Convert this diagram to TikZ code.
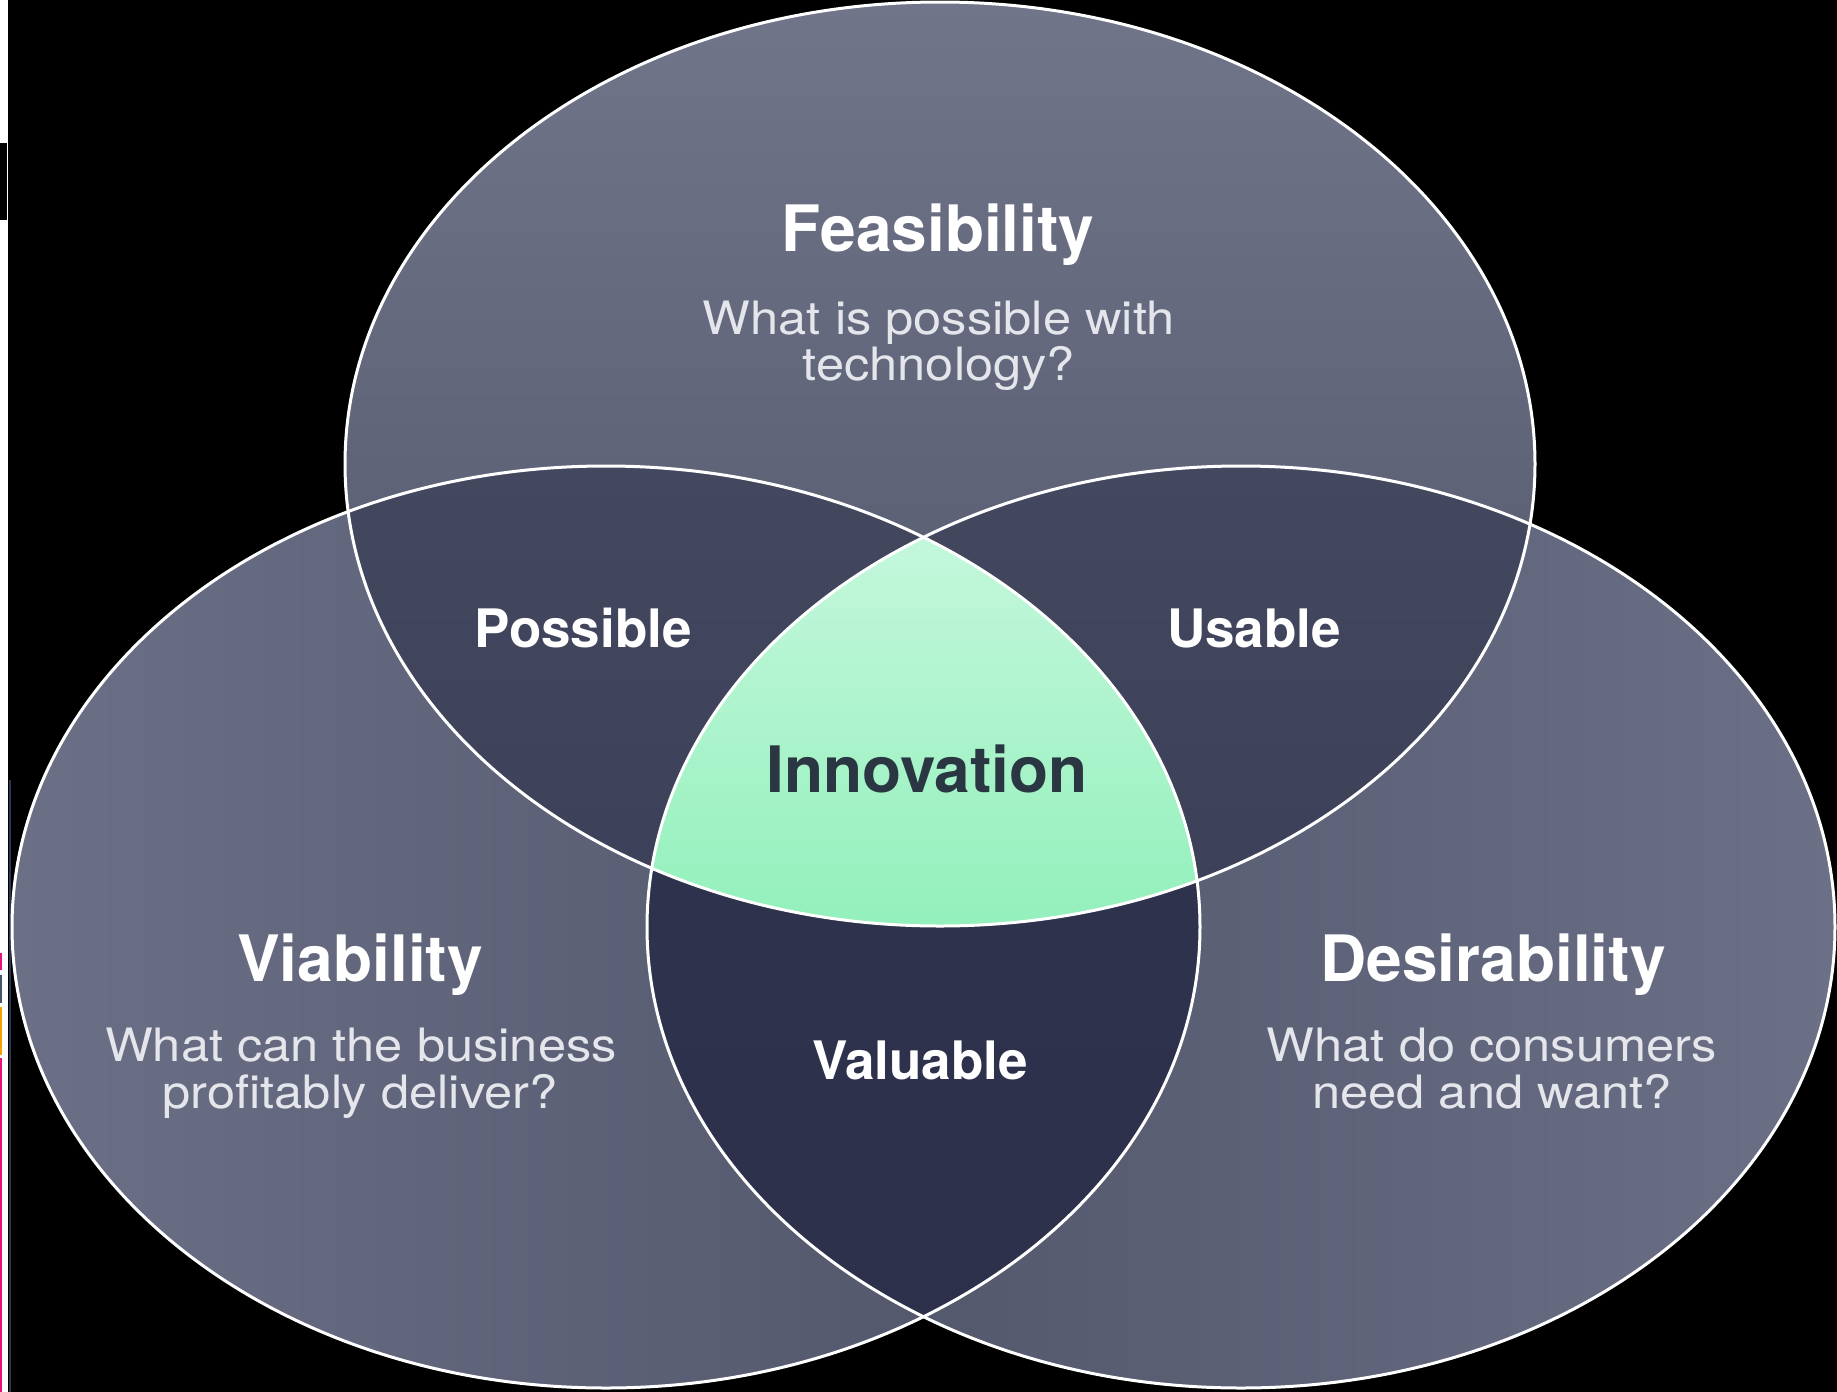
\documentclass[tikz,border=0pt]{standalone}
\usepackage{fontspec}
\setmainfont{TeX Gyre Heros}
\newfontfamily\descfont{TeX Gyre Heros}[FakeStretch=1.1]
\definecolor{topA}{HTML}{71758A}
\definecolor{topB}{HTML}{4F5367}
\definecolor{sideA}{HTML}{6C7087}
\definecolor{sideB}{HTML}{4D5165}
\definecolor{pairA}{HTML}{43485F}
\definecolor{pairB}{HTML}{343952}
\definecolor{valA}{HTML}{30344F}
\definecolor{valB}{HTML}{2C304A}
\definecolor{greenA}{HTML}{C4F7DC}
\definecolor{greenB}{HTML}{92F0BB}
\definecolor{innotext}{HTML}{2A3742}
\definecolor{desctext}{HTML}{E4E6EC}
\definecolor{markpink}{HTML}{E8117F}
\definecolor{markgrey}{HTML}{4A5568}
\definecolor{markorange}{HTML}{F5A300}
\definecolor{markblue}{HTML}{2A3550}
\begin{document}
\begin{tikzpicture}[x=0.5pt,y=-0.5pt,
  outline/.style={draw=white,line width=1.5pt},
  head/.style={text=white,font=\fontsize{32}{34}\selectfont\bfseries,inner sep=0pt,anchor=base},
  desc/.style={text=desctext,font=\descfont\fontsize{23}{24}\selectfont,inner sep=0pt,anchor=base},
  lab/.style={text=white,font=\fontsize{26.5}{28}\selectfont\bfseries,inner sep=0pt,anchor=base}]
\useasboundingbox (0,0) rectangle (1837,1392);
\fill[black] (0,0) rectangle (1837,1392);
% left-edge artefacts
\fill[white] (0,0) rectangle (8,1392);
\fill[black] (0,143) rectangle (7,220);
\fill[markpink] (0,953) rectangle (2,970);
\fill[markgrey] (0,975) rectangle (2,1003);
\fill[markorange] (0,1007) rectangle (2,1055);
\fill[markpink] (0,1058) rectangle (2,1392);
\fill[markblue] (9,780) rectangle (11,1392);
% centres
\coordinate (cT) at (940,464);
\coordinate (cL) at (606,927);
\coordinate (cR) at (1241,927);
% base ellipses
\shade[top color=topA,bottom color=topB] (cT) ellipse [x radius=595,y radius=462];
\shade[left color=sideA,right color=sideB] (cL) ellipse [x radius=594,y radius=461];
\shade[left color=sideB,right color=sideA] (cR) ellipse [x radius=594,y radius=461];
% pairwise overlaps
\begin{scope}
  \clip (cT) ellipse [x radius=595,y radius=462];
  \shade[top color=pairA,bottom color=pairB] (cL) ellipse [x radius=594,y radius=461];
  \shade[top color=pairA,bottom color=pairB] (cR) ellipse [x radius=594,y radius=461];
\end{scope}
\begin{scope}
  \clip (cL) ellipse [x radius=594,y radius=461];
  \shade[top color=valA,bottom color=valB] (cR) ellipse [x radius=594,y radius=461];
\end{scope}
% triple overlap
\begin{scope}
  \clip (cT) ellipse [x radius=595,y radius=462];
  \clip (cL) ellipse [x radius=594,y radius=461];
  \clip (cR) ellipse [x radius=594,y radius=461];
  \shade[top color=greenA,bottom color=greenB] (600,535) rectangle (1250,930);
\end{scope}
% outlines
\draw[outline] (cT) ellipse [x radius=595,y radius=462];
\draw[outline] (cL) ellipse [x radius=594,y radius=461];
\draw[outline] (cR) ellipse [x radius=594,y radius=461];
% texts
\node[head] (feas) at (938,251) {Feasibility};
\node[desc] (feasq1) at (939,334) {What is possible with};
\node[desc] (feasq2) at (939,380) {technology?};
\node[lab] (poss) at (583,647) {Possible};
\node[lab] (usab) at (1254,647) {Usable};
\node[head,text=innotext] (inno) at (927,792) {Innovation};
\node[head] (viab) at (360,981) {Viability};
\node[desc] (viabq1) at (361,1061) {What can the business};
\node[desc] (viabq2) at (360,1108) {profitably deliver?};
\node[head] (desir) at (1493,981) {Desirability};
\node[desc] (desirq1) at (1492,1061) {What do consumers};
\node[desc] (desirq2) at (1492,1108) {need and want?};
\node[lab] (valu) at (920,1079) {Valuable};
\end{tikzpicture}
\end{document}
